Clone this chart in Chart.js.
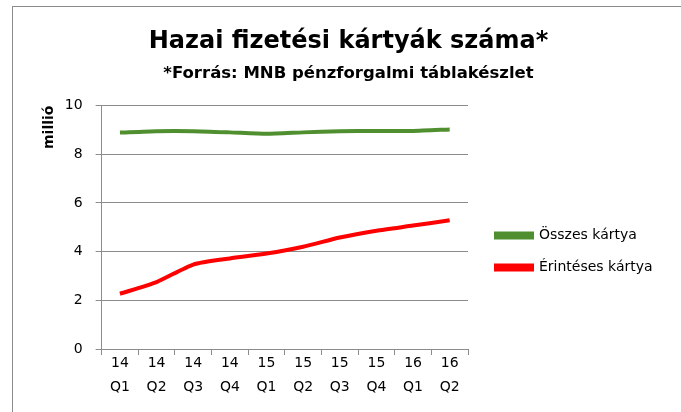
<!DOCTYPE html>
<html>
<head>
<meta charset="utf-8">
<script src="https://cdn.jsdelivr.net/npm/chart.js@4/dist/chart.umd.min.js"></script>
<style>
  html, body { margin: 0; padding: 0; background: #fff; overflow: hidden; }
  #wrap { position: relative; width: 681px; height: 412px; }
  #frame { position: absolute; left: 12px; top: 6px; width: 720px; height: 440px; border: 1px solid #8c8c8c; }
  canvas { position: absolute; left: 0; top: 0; }
</style>
</head>
<body>
<div id="wrap">
  <div id="frame"></div>
  <canvas id="chart" width="681" height="412"></canvas>
</div>
<script>
const categories = [['14', 'Q1'], ['14', 'Q2'], ['14', 'Q3'], ['14', 'Q4'], ['15', 'Q1'],
  ['15', 'Q2'], ['15', 'Q3'], ['15', 'Q4'], ['16', 'Q1'], ['16', 'Q2']];
const osszesKartya = [8.89, 8.95, 8.95, 8.9, 8.84, 8.9, 8.95, 8.96, 8.96, 9.02];
const erintesesKartya = [2.27, 2.75, 3.47, 3.72, 3.92, 4.2, 4.58, 4.86, 5.07, 5.29];
const yTicks = [0, 2, 4, 6, 8, 10];

const FONT = "'DejaVu Sans', sans-serif";
const gridGray = '#8c8c8c';

// legend box gets a fixed width, items moved next to the lower half of the plot
const legendPlacement = {
  id: 'legendPlacement',
  beforeLayout(chart) {
    const legend = chart.legend;
    if (!legend || legend._fixedWidth) return;
    const fit = legend.fit.bind(legend);
    legend.fit = function () {
      fit();
      this.width = 209;
    };
    legend._fixedWidth = true;
  },
  beforeDraw(chart) {
    const legend = chart.legend;
    if (!legend) return;
    legend.left = chart.chartArea.right + 10;
    legend.top = chart.chartArea.top + 105;
  }
};

const ctx = document.getElementById('chart').getContext('2d');

new Chart(ctx, {
  type: 'line',
  data: {
    labels: categories,
    datasets: [
      {
        label: 'Összes kártya',
        data: osszesKartya,
        borderColor: '#4f8f2f',
        backgroundColor: '#4f8f2f',
        borderWidth: 4,
        pointRadius: 0,
        tension: 0.2
      },
      {
        label: 'Érintéses kártya',
        data: erintesesKartya,
        borderColor: '#ff0000',
        backgroundColor: '#ff0000',
        borderWidth: 4,
        pointRadius: 0,
        tension: 0.2
      }
    ]
  },
  plugins: [legendPlacement],
  options: {
    responsive: false,
    animation: false,
    layout: { padding: { left: 20, right: 4, top: 14, bottom: 17 } },
    plugins: {
      title: {
        display: true,
        text: 'Hazai fizetési kártyák száma*',
        color: '#000',
        font: { family: FONT, size: 24, weight: 'bold' },
        padding: { top: 13, bottom: 8 }
      },
      subtitle: {
        display: true,
        text: '*Forrás: MNB pénzforgalmi táblakészlet',
        color: '#000',
        font: { family: FONT, size: 16.5, weight: 'bold' },
        padding: { top: 0, bottom: 22 }
      },
      legend: {
        position: 'right',
        align: 'start',
        labels: {
          color: '#000',
          font: { family: FONT, size: 14 },
          boxWidth: 36,
          boxHeight: 4,
          padding: 18
        }
      },
      tooltip: { enabled: false }
    },
    scales: {
      x: {
        offset: true,
        grid: {
          offset: true,
          drawOnChartArea: false,
          drawTicks: true,
          tickLength: 6,
          color: gridGray
        },
        border: { color: gridGray, width: 1 },
        ticks: {
          color: '#000',
          font: { family: FONT, size: 14, lineHeight: 1.714 },
          maxRotation: 0,
          autoSkip: false,
          padding: -4
        }
      },
      y: {
        min: 0,
        max: 10,
        afterBuildTicks: axis => {
          axis.ticks = yTicks.map(v => ({ value: v }));
        },
        grid: {
          color: gridGray,
          lineWidth: 1,
          tickLength: 6
        },
        border: { color: gridGray, width: 1 },
        ticks: {
          color: '#000',
          font: { family: FONT, size: 14 },
          padding: 13
        },
        title: {
          display: true,
          text: 'millió',
          align: 'end',
          color: '#000',
          font: { family: FONT, size: 14, weight: 'bold' },
          padding: { top: 21, bottom: -6 }
        }
      }
    }
  }
});
</script>
</body>
</html>
